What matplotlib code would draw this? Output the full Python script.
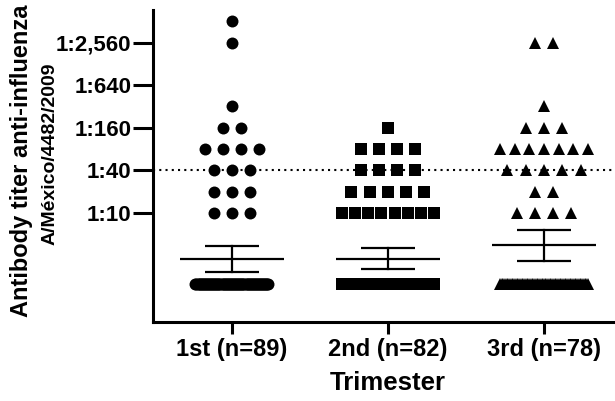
import numpy as np
import matplotlib
matplotlib.use("Agg")
import matplotlib.pyplot as plt
from matplotlib.ticker import NullLocator, FixedLocator

plt.rcParams['font.family'] = ['Liberation Sans', 'DejaVu Sans']
plt.rcParams['font.weight'] = 'bold'

groups = ["1st (n=89)", "2nd (n=82)", "3rd (n=78)"]
markers = ["o", "s", "^"]

# reciprocal titer and number of women at each titer, per trimester
levels_1st = [1, 10, 20, 40, 80, 160, 320, 2560, 5120]
counts_1st = [71, 3, 3, 3, 4, 2, 1, 1, 1]
levels_2nd = [1, 10, 20, 40, 80, 160]
counts_2nd = [60, 8, 5, 4, 4, 1]
levels_3rd = [1, 10, 20, 40, 80, 160, 320, 2560]
counts_3rd = [54, 4, 2, 5, 7, 3, 1, 2]

# mean line and error bar ends
means = [2.24, 2.24, 3.53]
err_low = [1.47, 1.62, 2.1]
err_high = [3.42, 3.2, 5.74]

yticks = [10, 40, 160, 640, 2560]
ytick_labels = ["1:10", "1:40", "1:160", "1:640", "1:2,560"]
cutoff = 40

levels = [levels_1st, levels_2nd, levels_3rd]
counts = [counts_1st, counts_2nd, counts_3rd]

# layout of the scatter rows (data units on x)
step = 0.117
max_span = [0.468, 0.59, 0.564]
msizes = [8.6, 8.6, 8.2]


def row_x(center, n, span):
    if n == 1:
        return np.array([center], dtype=float)
    s = min(step, span / (n - 1))
    return center + (np.arange(n) - (n - 1) / 2.0) * s


fig = plt.figure(figsize=(6.15, 4.01), dpi=100)
ax = fig.add_axes([153 / 615, 79 / 401, 462 / 615, 312 / 401])

ax.axhline(cutoff, color='black', lw=1.5, ls=(0, (1, 2)), zorder=1)

for i in range(3):
    for lv, n in zip(levels[i], counts[i]):
        xs = row_x(i, n, max_span[i])
        ax.plot(xs, [lv] * n, ls='none', marker=markers[i], ms=msizes[i],
                color='black', mew=0, zorder=3)
    # mean and error bar
    ax.plot([i - 0.333, i + 0.333], [means[i], means[i]], color='black', lw=1.6,
            zorder=4, solid_capstyle='butt')
    ax.plot([i - 0.173, i + 0.173], [err_low[i], err_low[i]], color='black', lw=1.6,
            zorder=4, solid_capstyle='butt')
    ax.plot([i - 0.173, i + 0.173], [err_high[i], err_high[i]], color='black', lw=1.6,
            zorder=4, solid_capstyle='butt')
    ax.plot([i, i], [err_low[i], err_high[i]], color='black', lw=1.6, zorder=4)

ax.set_yscale('log', base=2)
ax.set_ylim(0.288, 7390)
ax.set_xlim(-0.506, 2.455)
ax.yaxis.set_major_locator(FixedLocator(yticks))
ax.set_yticklabels(ytick_labels)
ax.yaxis.set_minor_locator(NullLocator())
ax.set_xticks([0, 1, 2])
ax.set_xticklabels(groups)

for side in ['top', 'right']:
    ax.spines[side].set_visible(False)
for side in ['left', 'bottom']:
    ax.spines[side].set_linewidth(2.2)

ax.tick_params(axis='y', length=14.4, width=2.2, labelsize=16, pad=1)
ax.tick_params(axis='x', length=8.6, width=2.2, labelsize=17, pad=3)

fig.text(388 / 615, 1 - 383 / 401, "Trimester", ha='center', va='center', fontsize=18.5)
fig.text(22 / 615, 1 - 161 / 401, "Antibody titer anti-influenza", ha='center',
         va='center', rotation=90, fontsize=17)
fig.text(50 / 615, 1 - 154 / 401, "A/México/4482/2009", ha='center',
         va='center', rotation=90, fontsize=14)

fig.savefig("out.png", dpi=100)
